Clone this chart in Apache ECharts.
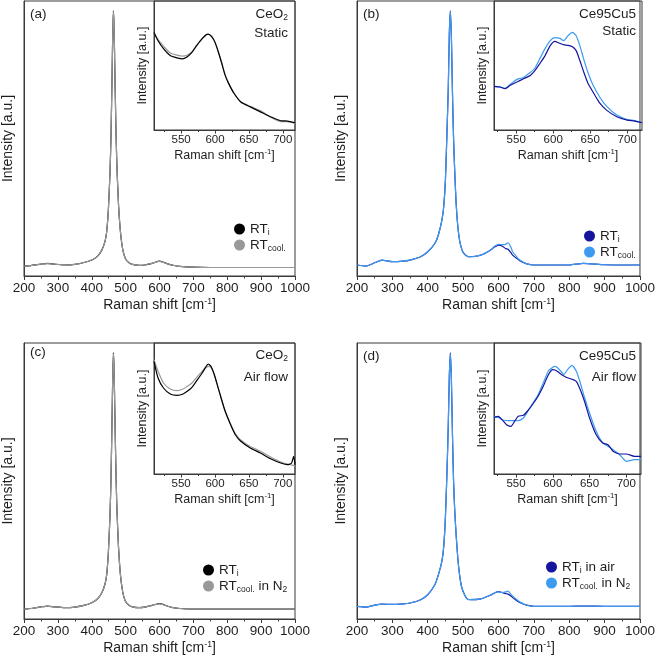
<!DOCTYPE html>
<html><head><meta charset="utf-8">
<script src="https://cdn.jsdelivr.net/npm/echarts@6/dist/echarts.min.js"></script>
<style>html,body{margin:0;padding:0;background:#fff}#c{width:658px;height:658px}</style>
</head><body><div id="c"></div>
<script>
// ---------- main spectra (a), (c) ----------
const mainX_ac = [200,220,250,270,290,320,350,380,400,410,420,430,439,444,449,454,457,460,462,464,466,468,471,474,479,484,489,494,500,510,520,540,560,580,600,610,620,640,660,700,750,800,900,1000];
const mainA_RTi   = [3.6,3.8,4.3,4.6,4.3,4.0,4.2,5.0,5.8,6.5,7.6,9.5,12.5,16,24,38,52,73,88,96.4,90,76,56,41,26,17,11.5,8.3,6.2,4.8,4.2,3.9,4.1,4.7,5.4,5.1,4.6,3.9,3.5,3.2,3.1,3.1,3.1,3.1];
const mainA_RTcool= [3.6,3.8,4.3,4.5,4.3,4.0,4.2,5.0,5.8,6.5,7.6,9.5,12.5,16,24,38,52,73,88,96.2,90,76,56,41,26,17,11.5,8.3,6.2,4.8,4.2,3.9,4.1,4.7,5.3,5.0,4.6,3.9,3.5,3.2,3.1,3.1,3.1,3.1];
const mainC_RTi   = [3.6,3.8,4.4,4.7,4.4,4.1,4.3,5.0,5.9,6.6,7.7,9.6,12.6,16,24,38,52,73,88,96.4,90,76,56,41,26,17,11.6,8.4,6.3,5.0,4.4,4.1,4.4,5.0,5.6,5.3,4.8,4.1,3.8,3.6,3.6,3.6,3.6,3.6];
const mainC_RTcool= [3.6,3.8,4.4,4.7,4.4,4.1,4.3,5.0,5.9,6.6,7.7,9.6,12.6,16,24,38,52,73,88,96.2,90,76,56,41,26,17,11.6,8.4,6.3,5.0,4.4,4.1,4.4,5.0,5.5,5.2,4.8,4.1,3.8,3.6,3.6,3.6,3.6,3.6];

// ---------- main spectra (b), (d) ----------
const mainX_bd = [200,225,250,270,300,330,350,380,400,420,430,440,445,450,455,458,461,464,467,470,473,476,480,485,490,495,500,510,520,550,575,590,600,610,620,627,635,640,650,660,680,700,750,800,840,900,1000];
const mainB_RTi   = [4.0,3.6,4.8,5.8,5.2,5.4,5.8,7.0,8.8,11.8,14.9,20.3,25,35,55,68,88,96.4,86,66,50,39,27,18,13,10.2,8.6,7.3,7.0,7.6,9.2,10.6,11.2,10.9,10.0,9.7,8.5,7.6,6.5,5.6,4.4,4.0,4.0,4.0,4.6,4.1,4.0];
const mainB_RTcool= [4.0,3.6,4.8,5.8,5.2,5.4,5.8,7.0,8.8,11.8,14.9,20.3,25,35,55,68,88,96.2,86,66,50,39,27,18,13,10.2,8.6,7.3,7.0,7.6,9.2,10.9,11.5,11.4,11.5,12.1,10.5,8.8,7.2,5.8,4.4,4.0,4.0,4.0,4.6,4.1,4.0];
const mainD_RTi   = [4.6,4.3,5.0,5.4,5.3,5.5,5.8,7.0,8.8,12.4,16,21,26,37,56,70,88,96.4,86,66,50,40,31,22,16,12,10,7.5,7.0,7.3,8.5,9.5,9.9,9.6,9.2,9.0,8.3,7.8,6.8,6.0,5.0,4.6,4.6,4.6,4.7,4.6,4.6];
const mainD_RTcool= [4.6,4.3,5.0,5.4,5.3,5.5,5.8,7.0,8.8,12.4,16,21,26,37,56,70,88,96.2,86,66,50,40,31,22,16,12,10,7.5,7.0,7.3,8.5,9.5,9.8,9.6,9.8,10.1,9.0,8.3,7.2,6.2,5.0,4.6,4.6,4.6,4.7,4.6,4.6];

// ---------- insets ----------
const insetX_a = [510,516,524,534,544,552,558,566,573,581,587,590,595,600,605,610,615,620,628,638,652,667,682,697,707,718];
const insetA_RTi    = [98.3,90,82,75,72.7,71.7,73.3,78.3,85,92,96,96.7,94,88.3,78.3,67,55,47,37,28.3,23.3,18.3,13.3,9.3,9,7.3];
const insetA_RTcool = [98,91,84.5,77.5,75.5,74.5,75,79,85.5,92,96,96.5,94.5,88.5,79,67.5,55.5,47.5,37,28.5,23.8,19.5,12.8,8.5,8.3,6.5];

const insetX_b = [520,528,535,542,551,560,569,575,582,589,596,602,609,614,620,626,631,636,641,647,654,663,672,686,700,710,720];
const insetB_RTi    = [44,43.3,41.7,45,48.3,51.7,55,59.5,67,75,85,89.3,87.3,86,85.3,84,80,70,59,47,38,27,20,13.3,10,9,7.3];
const insetB_RTcool = [44,43.5,42,46,51,53,58,62,72,82,90,93,92.3,90,95,98.3,95,85,72,58,45,33,24,15,10.5,9.5,7.3];

const insetX_c = [510,516,524,534,544,553,559,566,573,581,586,590,594,599,604,609,615,623,630,638,652,667,682,697,707,713,716,718];
const insetC_RTi    = [112.7,96,86,80,78.7,80,82.7,86.7,93.3,101,106.7,110,107.7,99.3,87.7,76,62.7,49.3,39.3,32.7,26,21,15.3,11,9.3,11,17.7,9.3];
const insetC_RTcool = [114.3,102.7,91,85,83.3,85,87.7,91,96.7,102.7,106,107.7,106.7,99.3,87.7,76,63,50,40.5,34,27.5,22.7,17,12,10,9,8.5,7.7];

const insetX_d = [520,526,531,537,543,548,553,560,566,573,580,587,594,600,603,606,612,615,620,626,632,637,643,650,659,668,675,682,691,700,711,720];
const insetD_RTi    = [56.7,57.7,54.3,49.3,47.7,52.7,57.7,58.7,63.3,70,77.7,87.7,99.3,104.3,104,102.7,99.3,98,96.2,94.8,92.7,85,73,56,39.3,31,29.3,22.7,20,20,17.7,17.7];
const insetD_RTcool = [57.7,56.5,54.3,53.5,53.3,53.3,53.3,56,62.7,71,79.3,91,103,106.7,107.7,106.5,102,99.3,104.3,108.7,102.7,92,77,61,42.7,31,27.7,24.3,19.3,12.7,14.3,14.3];

// ---------- ticks ----------
const insetTicks = [550,600,650,700];
const insetMinorTicks = [525,575,625,675];

// ---------- build ----------
const FONT = 'Liberation Sans, Arial, Helvetica, sans-serif';
const AX = '#3a3a3a', TXT = '#1e1e1e';
const C_BLACK = '#000000', C_GRAY = '#999999', C_NAVY = '#14149e', C_LIGHT = '#3c9bef';

function pairs(xs, ys){ return xs.map((x,i)=>[x, ys[i]]); }

const grids = [
  {left:24, top:1, width:271, height:275},   // 0 main a
  {left:154, top:1, width:141, height:129},  // 1 inset a
  {left:357, top:1, width:285, height:275},  // 2 main b
  {left:494, top:1, width:148, height:129},  // 3 inset b
  {left:24, top:343, width:271, height:276}, // 4 main c
  {left:154, top:343, width:141, height:131},// 5 inset c
  {left:357, top:343, width:284, height:276},// 6 main d
  {left:494, top:343, width:147, height:131} // 7 inset d
].map(g => Object.assign({show:true, borderColor:AX, borderWidth:1, backgroundColor:'rgba(0,0,0,0)'}, g));

const xName = size => ({
  name: '{n|Raman shift [cm}{p|-1}{n|]}',
  nameLocation: 'middle',
  nameTextStyle: { rich: {
    n: {fontSize:size, fontFamily:FONT, color:TXT, lineHeight:size+3},
    p: {fontSize:size*0.62, fontFamily:FONT, color:TXT, verticalAlign:'top', lineHeight:size*0.62}
  }}
});

function mainXAxis(gi){
  return Object.assign({
    gridIndex: gi, type:'value', min:200, max:1000, interval:100,
    axisLine:{show:true, onZero:false, lineStyle:{color:AX, width:1}},
    axisTick:{show:true, inside:false, length:4, lineStyle:{color:AX}},
    minorTick:{show:true, splitNumber:2, length:2.5, lineStyle:{color:AX}},
    axisLabel:{fontSize:13.5, color:TXT, margin:5, fontFamily:FONT, formatter: v => String(v)},
    splitLine:{show:false}, minorSplitLine:{show:false},
    nameGap: 21
  }, xName(14));
}
function insetXAxis(gi, mn, mx){
  return Object.assign({
    gridIndex: gi, type:'value', min:mn, max:mx,
    axisLine:{show:true, onZero:false, lineStyle:{color:AX, width:1}},
    axisTick:{show:true, inside:false, length:3.5, lineStyle:{color:AX}, customValues: insetTicks},
    axisLabel:{fontSize:11.5, color:TXT, margin:4, fontFamily:FONT, customValues: insetTicks, formatter: v => String(v)},
    splitLine:{show:false},
    nameGap: 18
  }, xName(12.5));
}
function insetMinorAxis(gi, mn, mx){
  return {
    gridIndex: gi, type:'value', min:mn, max:mx, position:'bottom',
    axisLine:{show:false},
    axisTick:{show:true, inside:false, length:2, lineStyle:{color:AX}, customValues: insetMinorTicks},
    axisLabel:{show:false}, splitLine:{show:false}
  };
}
function yAxis(gi, mn, mx, size, gap){
  return {
    gridIndex: gi, type:'value', min:mn, max:mx,
    axisLine:{show:true, onZero:false, lineStyle:{color:AX, width:1}},
    axisTick:{show:false}, axisLabel:{show:false}, splitLine:{show:false},
    name:'Intensity [a.u.]', nameLocation:'middle', nameGap:gap,
    nameTextStyle:{fontSize:size, color:TXT, fontFamily:FONT}
  };
}

const xAxes = [
  mainXAxis(0), insetXAxis(1,510,718),
  mainXAxis(2), insetXAxis(3,520,720),
  mainXAxis(4), insetXAxis(5,510,718),
  mainXAxis(6), insetXAxis(7,520,720),
  insetMinorAxis(1,510,718), insetMinorAxis(3,520,720),
  insetMinorAxis(5,510,718), insetMinorAxis(7,520,720)
];
const yAxes = [
  yAxis(0,0,100,14,9), yAxis(1,0,130,12.5,5),
  yAxis(2,0,100,14,9), yAxis(3,0,130,12.5,5),
  yAxis(4,0,100,14,9), yAxis(5,0,131,12.5,5),
  yAxis(6,0,100,14,9), yAxis(7,0,131,12.5,5)
];

function line(name, ax, xs, ys, color, z){
  return {type:'line', name, xAxisIndex:ax, yAxisIndex:ax, data:pairs(xs,ys),
    showSymbol:false, symbol:'none', smooth:0.2, animation:false, z:z||2,
    lineStyle:{width:1.2, color}, itemStyle:{color}};
}

const series = [
  line('a_RTi',0,mainX_ac,mainA_RTi,C_BLACK,2),
  line('a_RTcool',0,mainX_ac,mainA_RTcool,C_GRAY,3),
  line('ai_RTi',1,insetX_a,insetA_RTi,C_BLACK,3),
  line('ai_RTcool',1,insetX_a,insetA_RTcool,C_GRAY,2),
  line('b_RTi',2,mainX_bd,mainB_RTi,C_NAVY,2),
  line('b_RTcool',2,mainX_bd,mainB_RTcool,C_LIGHT,3),
  line('bi_RTi',3,insetX_b,insetB_RTi,C_NAVY,3),
  line('bi_RTcool',3,insetX_b,insetB_RTcool,C_LIGHT,2),
  line('c_RTi',4,mainX_ac,mainC_RTi,C_BLACK,2),
  line('c_RTcool',4,mainX_ac,mainC_RTcool,C_GRAY,3),
  line('ci_RTi',5,insetX_c,insetC_RTi,C_BLACK,3),
  line('ci_RTcool',5,insetX_c,insetC_RTcool,C_GRAY,2),
  line('d_RTi',6,mainX_bd,mainD_RTi,C_NAVY,2),
  line('d_RTcool',6,mainX_bd,mainD_RTcool,C_LIGHT,3),
  line('di_RTi',7,insetX_d,insetD_RTi,C_NAVY,3),
  line('di_RTcool',7,insetX_d,insetD_RTcool,C_LIGHT,2)
];

const legendLabels = {
  a_RTi:'{n|RT}{s|i}', a_RTcool:'{n|RT}{s|cool.}',
  b_RTi:'{n|RT}{s|i}', b_RTcool:'{n|RT}{s|cool.}',
  c_RTi:'{n|RT}{s|i}', c_RTcool:'{n|RT}{s|cool.}{n| in N}{s|2}',
  d_RTi:'{n|RT}{s|i}{n| in air}', d_RTcool:'{n|RT}{s|cool.}{n| in N}{s|2}'
};
const richSub = {
  n:{fontSize:13.5, fontFamily:FONT, color:TXT, lineHeight:16},
  s:{fontSize:8.5, fontFamily:FONT, color:TXT, verticalAlign:'bottom', lineHeight:10}
};
function legend(names, left, top){
  return {data:names, left, top, orient:'vertical', icon:'circle', itemWidth:11, itemHeight:11,
    itemGap:1, padding:0, selectedMode:false,
    formatter: n => legendLabels[n], textStyle:{rich:richSub}};
}
const legends = [
  legend(['a_RTi','a_RTcool'], 234, 222),
  legend(['b_RTi','b_RTcool'], 584, 229),
  legend(['c_RTi','c_RTcool'], 203, 563),
  legend(['d_RTi','d_RTcool'], 546, 560)
];

function txt(x, y, text, align){
  return {type:'text', x, y, z:100, style:{text, rich:richSub, align:align||'left', verticalAlign:'middle',
    fontSize:14, fontFamily:FONT, fill:TXT}};
}
const graphics = [
  txt(30,14,'{n|(a)}'), txt(288,14,'{n|CeO}{s|2}','right'), txt(288,33,'{n|Static}','right'),
  txt(363,14,'{n|(b)}'), txt(636,14,'{n|Ce95Cu5}','right'), txt(636,31,'{n|Static}','right'),
  txt(30,352,'{n|(c)}'), txt(288,355,'{n|CeO}{s|2}','right'), txt(288,377,'{n|Air flow}','right'),
  txt(363,356,'{n|(d)}'), txt(636,356,'{n|Ce95Cu5}','right'), txt(636,377,'{n|Air flow}','right')
];

const chart = echarts.init(document.getElementById('c'), null, {renderer:'canvas'});
chart.setOption({
  animation:false,
  backgroundColor:'#ffffff',
  textStyle:{fontFamily:FONT},
  grid: grids, xAxis: xAxes, yAxis: yAxes, series, legend: legends, graphic: graphics
});
</script></body></html>
